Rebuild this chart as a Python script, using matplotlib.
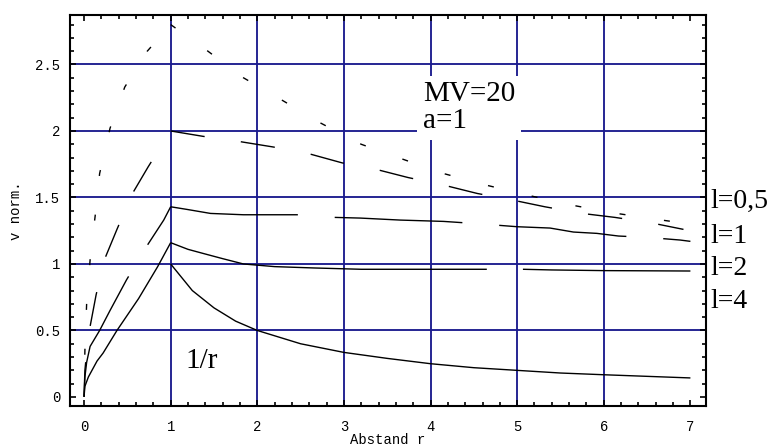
import matplotlib
matplotlib.use('Agg')
import matplotlib.pyplot as plt
from matplotlib.ticker import MultipleLocator

plt.rcParams['lines.scale_dashes'] = False

# ---------------- data ----------------
x_ticks = [0, 1, 2, 3, 4, 5, 6, 7]
y_ticks = [0, 0.5, 1, 1.5, 2, 2.5]
y_ticklabels = ['0', '0.5', '1', '1.5', '2', '2.5']
grid_x = [1, 2, 3, 4, 5, 6]
grid_y = [0.5, 1, 1.5, 2, 2.5]

# 1/r curve
r_inv = [1.0, 1.25, 1.5, 1.75, 2.0, 2.5, 3.0, 3.5, 4.0, 4.5, 5.0, 5.5, 6.0, 6.5, 7.0]
v_inv = [1.0, 0.8, 0.67, 0.57, 0.5, 0.4, 0.335, 0.29, 0.25, 0.22, 0.2, 0.18, 0.167, 0.155, 0.143]

# l=4 curve (peak 1.16)
r_l4_up = [0, 0.01, 0.05, 0.15, 0.22, 0.38, 0.63, 0.85, 1.0]
v_l4_up = [0, 0.08, 0.15, 0.27, 0.33, 0.5, 0.74, 0.98, 1.16]
r_l4_dn = [1.0, 1.2, 1.37, 1.6, 1.84, 2.2, 2.65, 3.2, 4.0, 4.65, 5.07, 5.4, 6.0, 7.0]
v_l4_dn = [1.16, 1.11, 1.08, 1.04, 1.0, 0.98, 0.97, 0.96, 0.96, 0.96, 0.96, 0.955, 0.95, 0.947]

# l=2 curve (peak 1.43)
r_l2_up = [0, 0.01, 0.03, 0.07, 0.18, 0.3, 0.49, 0.72, 0.92, 1.0]
v_l2_up = [0, 0.15, 0.26, 0.38, 0.5, 0.65, 0.88, 1.13, 1.33, 1.43]
r_l2_dn = [1.0, 1.19, 1.46, 1.84, 2.47, 2.9, 3.19, 3.65, 4.15, 4.38, 4.8, 5.0, 5.38,
           5.65, 5.92, 6.17, 6.5, 6.88, 7.0]
v_l2_dn = [1.43, 1.41, 1.38, 1.37, 1.37, 1.35, 1.345, 1.33, 1.32, 1.31, 1.29, 1.28, 1.27,
           1.24, 1.23, 1.21, 1.2, 1.18, 1.17]

# l=1 curve (peak 2.0)
r_l1_up = [0, 0.01, 0.04, 0.07, 0.14, 0.24, 0.38, 0.55, 0.74, 1.0]
v_l1_up = [0, 0.2, 0.4, 0.53, 0.77, 1.04, 1.26, 1.52, 1.73, 2.0]
r_l1_dn = [1.0, 1.37, 1.8, 2.18, 2.59, 2.98, 3.38, 3.74, 4.17, 4.54, 4.95, 5.32, 5.75,
           6.13, 6.54, 6.92]
v_l1_dn = [2.0, 1.96, 1.92, 1.88, 1.83, 1.76, 1.71, 1.65, 1.59, 1.53, 1.48, 1.43, 1.38,
           1.35, 1.31, 1.26]

# l=0,5 curve (peak 2.8)
r_l05_up = [0, 0.01, 0.03, 0.07, 0.13, 0.18, 0.3, 0.47, 0.73, 1.0]
v_l05_up = [0, 0.35, 0.7, 1.03, 1.37, 1.68, 2.02, 2.33, 2.6, 2.8]
r_l05_dn = [1.0, 1.43, 1.84, 2.29, 2.73, 3.2, 3.67, 4.15, 4.66, 5.17, 5.65, 6.15, 6.67, 7.0]
v_l05_dn = [2.8, 2.6, 2.4, 2.23, 2.06, 1.9, 1.79, 1.68, 1.59, 1.51, 1.44, 1.38, 1.33, 1.30]

curve_labels = ['l=0,5', 'l=1', 'l=2', 'l=4']

# ---------------- figure ----------------
W, H = 768, 446
fig = plt.figure(figsize=(W / 100, H / 100), dpi=100)
ax = fig.add_axes([70 / W, (H - 406) / H, 636 / W, 391 / H])
ax.set_xlim(-0.162, 7.18)
ax.set_ylim(-0.068, 2.872)

gcol = '#1c1c8e'
for gx in grid_x:
    ax.axvline(gx, color=gcol, lw=1.35, zorder=1)
for gy in grid_y:
    ax.axhline(gy, color=gcol, lw=1.35, zorder=1)

kw = dict(color='black', lw=1.0, zorder=3, solid_capstyle='butt', dash_capstyle='butt')
ax.plot(r_inv, v_inv, **kw)
ax.plot(r_l4_up, v_l4_up, **kw)
ax.plot(r_l4_dn, v_l4_dn, linestyle=(0, (230, 26)), **kw)
ax.plot(r_l2_up[::-1], v_l2_up[::-1], linestyle=(60, (92, 26.6)), **kw)
ax.plot(r_l2_dn, v_l2_dn, linestyle=(0, (92, 26.6)), **kw)
ax.plot(r_l1_up[::-1], v_l1_up[::-1], linestyle=(24.8, (24.8, 26.3)), **kw)
ax.plot(r_l1_dn, v_l1_dn, linestyle=(0, (24.8, 26.3)), **kw)
ax.plot(r_l05_up[::-1], v_l05_up[::-1], linestyle=(10.8, (4.3, 28)), **kw)
ax.plot(r_l05_dn, v_l05_dn, linestyle=(0, (4.3, 28)), **kw)

# ticks
ax.set_xticks(x_ticks)
ax.set_xticklabels([str(t) for t in x_ticks])
ax.set_yticks(y_ticks)
ax.set_yticklabels(y_ticklabels)
ax.xaxis.set_minor_locator(MultipleLocator(0.2))
ax.yaxis.set_minor_locator(MultipleLocator(0.1))
ax.tick_params(which='both', direction='in', top=True, right=True, width=1.2, color='black')
ax.tick_params(which='major', length=4)
ax.tick_params(which='minor', length=2.8)
ax.tick_params(axis='x', which='major', pad=10)
ax.tick_params(axis='y', which='major', pad=7)
for lab in ax.get_xticklabels() + ax.get_yticklabels():
    lab.set_fontfamily('Liberation Mono')
    lab.set_fontsize(10)
for s in ax.spines.values():
    s.set_linewidth(1.5)
    s.set_zorder(4)

fig.text(388 / W, (H - 444) / H, 'Abstand r', fontfamily='Liberation Mono', fontsize=10,
         ha='center', va='baseline')
ax.set_ylabel('v norm.', fontfamily='Liberation Mono', fontsize=10, labelpad=9)

serif = 'Liberation Serif'
ax.text(3.91, 2.02, 'MV=20\na=1', fontfamily=serif, fontsize=21, va='baseline', ha='left',
        linespacing=1.05, zorder=5,
        bbox=dict(facecolor='white', edgecolor='none', pad=4))
ax.text(1.17, 0.22, '1/r', fontfamily=serif, fontsize=21, va='baseline', ha='left', zorder=5)

label_y = [208, 243, 275, 308]
for txt, py in zip(curve_labels, label_y):
    fig.text(710 / W, (H - py) / H, txt, fontfamily=serif, fontsize=20, va='baseline', ha='left')

fig.savefig('out.png', dpi=100)
